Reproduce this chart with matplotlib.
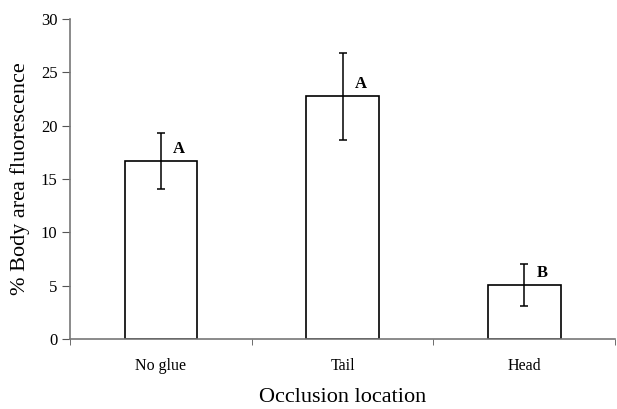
import matplotlib.pyplot as plt
import numpy as np

# Data
locations = ["No glue", "Tail", "Head"]
means = [16.7, 22.75, 5.05]
err_low = [14.05, 18.7, 3.1]
err_high = [19.3, 26.8, 7.05]
letters = ["A", "A", "B"]

plt.rcParams['font.family'] = ['Liberation Serif', 'DejaVu Serif']

fig = plt.figure(figsize=(6.17, 4.09), dpi=100)
ax = fig.add_axes([0.1135, 0.1711, 0.8833, 0.7824])

x = np.arange(len(locations))
lower = np.array(means) - np.array(err_low)
upper = np.array(err_high) - np.array(means)

# Bars
ax.bar(x, means, width=0.4, color="white", edgecolor="black", linewidth=1.2, zorder=2)
# Error bars
ax.errorbar(x, means, yerr=[lower, upper], fmt="none", ecolor="black",
            elinewidth=1.1, capsize=3, capthick=1.1, zorder=3)

# Significance letters
for xi, m, lab in zip(x, means, letters):
    ax.text(xi + 0.1, m + 0.4, lab, ha="center", va="bottom",
            fontsize=12, fontweight="bold")

ax.set_xlim(-0.5, 2.5)
ax.set_ylim(0, 30)
ax.set_yticks(np.arange(0, 31, 5))
ax.set_xticks(x)
ax.set_xticklabels(locations, fontsize=11.5)
ax.set_xticks([-0.5, 0.5, 1.5, 2.5], minor=True)
ax.tick_params(axis="x", which="major", length=0, pad=14)
ax.tick_params(axis="x", which="minor", length=4, direction="out", color="#555555")
ax.tick_params(axis="y", length=6, direction="out", pad=3, labelsize=12, color="#555555")

for side in ["top", "right"]:
    ax.spines[side].set_visible(False)
for side in ["left", "bottom"]:
    ax.spines[side].set_color("#777777")
    ax.spines[side].set_linewidth(1.2)

ax.set_ylabel("% Body area fluorescence", fontsize=16, labelpad=8)
ax.set_xlabel("Occlusion location", fontsize=16, labelpad=10)

fig.savefig("out.png", dpi=100)
